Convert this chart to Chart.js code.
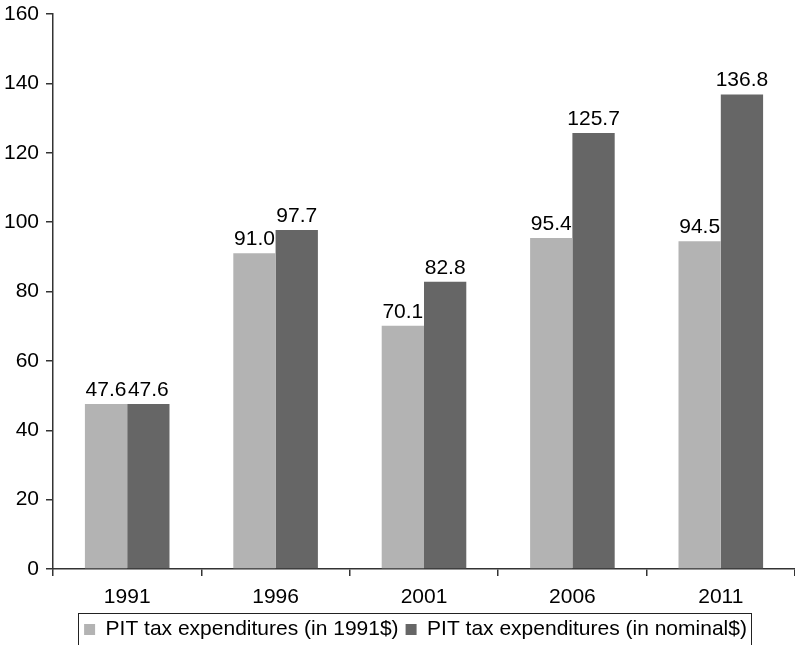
<!DOCTYPE html>
<html>
<head>
<meta charset="utf-8">
<script src="https://cdn.jsdelivr.net/npm/chart.js@4/dist/chart.umd.min.js"></script>
<style>
  html, body { margin: 0; padding: 0; background: #fff; overflow: hidden; }
  #wrap { width: 795px; height: 645px; }
</style>
</head>
<body>
<div id="wrap"><canvas id="c" width="795" height="645"></canvas></div>
<script>
// Survey years
const years = ['1991', '1996', '2001', '2006', '2011'];
// PIT tax expenditures, constant 1991 dollars
const real1991 = [47.6, 91.0, 70.1, 95.4, 94.5];
// PIT tax expenditures, nominal dollars
const nominal = [47.6, 97.7, 82.8, 125.7, 136.8];
const seriesNames = ['PIT tax expenditures (in 1991$)', 'PIT tax expenditures (in nominal$)'];
// Value axis range and step
const yMin = 0, yMax = 160, yStep = 20;

const FONT = "'Liberation Sans', Arial, Helvetica, sans-serif";
const AXIS = '#333333';

// Prints each bar's value just above it
const valueLabels = {
  id: 'valueLabels',
  afterDatasetsDraw(chart) {
    const ctx = chart.ctx;
    ctx.save();
    ctx.font = '21px ' + FONT;
    ctx.fillStyle = '#000';
    ctx.textAlign = 'center';
    ctx.textBaseline = 'alphabetic';
    chart.data.datasets.forEach((ds, i) => {
      chart.getDatasetMeta(i).data.forEach((bar, j) => {
        ctx.fillText(ds.data[j].toFixed(1), bar.x, bar.y - 8);
      });
    });
    ctx.restore();
  }
};

// Moves the legend a little right and down, and frames it with a thin box
const legendFrame = {
  id: 'legendFrame',
  afterLayout(chart) {
    const lg = chart.legend;
    lg.left += 18;
    lg.right += 18;
    lg.top += 5;
    lg.bottom += 5;
  },
  afterDraw(chart) {
    const lg = chart.legend;
    const pad = lg.options.labels.padding;
    const rowW = lg.lineWidths[0];
    const startX = (lg.left + pad + lg.right - rowW) / 2;
    const endX = startX + rowW - pad;
    const cy = lg.top + pad + 10.5;
    const ctx = chart.ctx;
    ctx.save();
    ctx.strokeStyle = '#222';
    ctx.lineWidth = 1;
    ctx.strokeRect(Math.round(startX - 6) + 0.5, Math.round(cy - 17) + 0.5,
                   Math.round(endX - startX + 10), 40);
    ctx.restore();
  }
};

new Chart(document.getElementById('c'), {
  type: 'bar',
  data: {
    labels: years,
    datasets: [
      { label: seriesNames[0], data: real1991, backgroundColor: '#b3b3b3', borderWidth: 0,
        categoryPercentage: 0.57, barPercentage: 1.0 },
      { label: seriesNames[1], data: nominal, backgroundColor: '#666666', borderWidth: 0,
        categoryPercentage: 0.57, barPercentage: 1.0 }
    ]
  },
  options: {
    responsive: false,
    animation: false,
    devicePixelRatio: 1,
    layout: { padding: 0 },
    plugins: {
      tooltip: { enabled: false },
      legend: {
        position: 'bottom',
        labels: {
          font: { family: FONT, size: 21 },
          color: '#000',
          boxWidth: 11,
          boxHeight: 11,
          padding: 7
        }
      }
    },
    scales: {
      x: {
        grid: { display: true, drawOnChartArea: false, drawTicks: true, tickLength: 7, color: AXIS, lineWidth: 1.5, offset: true },
        border: { display: true, color: AXIS, width: 1.5 },
        ticks: { font: { family: FONT, size: 21 }, color: '#000', padding: 9 },
        afterFit(scale) {
          scale.height = 645 - 569 - scale.chart.legend.height;
        }
      },
      y: {
        min: yMin,
        max: yMax,
        ticks: { stepSize: yStep, font: { family: FONT, size: 21 }, color: '#000', padding: 7 },
        grid: { display: true, drawOnChartArea: false, drawTicks: true, tickLength: 7, color: AXIS, lineWidth: 1.5 },
        border: { display: true, color: AXIS, width: 1.5 },
        afterFit(scale) {
          scale.width = 53;
          scale.paddingTop = 14;
        }
      }
    }
  },
  plugins: [valueLabels, legendFrame]
});
</script>
</body>
</html>
